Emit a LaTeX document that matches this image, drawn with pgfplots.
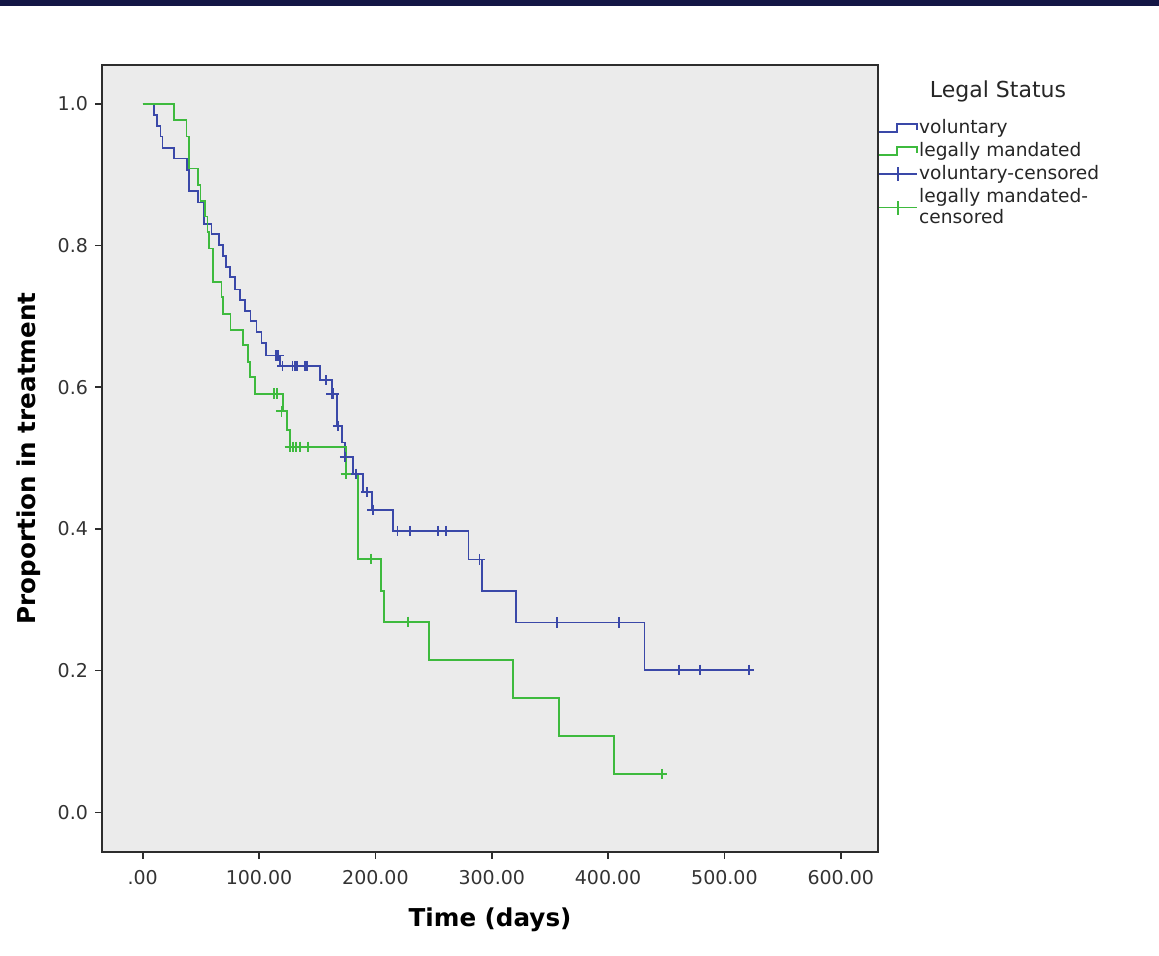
\documentclass[border=0pt]{standalone}
\usepackage{fontspec}
\setmainfont{DejaVu Sans}
\usepackage{pgfplots}
\pgfplotsset{compat=1.18}
\definecolor{kmblue}{RGB}{58,72,168}
\definecolor{kmgreen}{RGB}{62,186,62}
\definecolor{panel}{RGB}{235,235,235}
\definecolor{band}{RGB}{20,22,69}
\definecolor{frame}{RGB}{45,45,45}

\begin{document}
\begin{tikzpicture}
\fill[white] (0,0) rectangle (579.5pt,478pt);
\path[use as bounding box] (0,0) rectangle (579.5pt,478pt);
\fill[band] (0,475pt) rectangle (579.5pt,478pt);
% legend title
\node[font=\fontsize{11}{13}\selectfont, text=black!85] at (499pt,432.5pt) {Legal Status};
\begin{axis}[
    at={(51pt,52pt)}, anchor=south west,
    scale only axis, width=388pt, height=393.5pt,
    xmin=-35, xmax=632, ymin=-0.056, ymax=1.055,
    axis background/.style={fill=panel},
    axis line style={frame, line width=1pt},
    xtick={0,100,200,300,400,500,600},
    xticklabels={.00,100.00,200.00,300.00,400.00,500.00,600.00},
    ytick={0,0.2,0.4,0.6,0.8,1.0},
    yticklabels={0.0,0.2,0.4,0.6,0.8,1.0},
    tick pos=left, tick align=outside,
    major tick length=3.5pt,
    tick style={frame, line width=0.8pt},
    ticklabel style={font=\fontsize{9.5}{11}\selectfont, text=black!80},
    xticklabel style={yshift=-2pt},
    xlabel={Time (days)}, ylabel={Proportion in treatment},
    label style={font=\fontsize{12.3}{14}\selectfont\bfseries},
    xlabel style={at={(axis description cs:0.5,-0.086)}, anchor=center},
    ylabel style={at={(axis description cs:-0.095,0.5)}, anchor=center},
    legend style={at={(axis description cs:1,0.933)}, anchor=north west,
        draw=none, fill=none, font=\fontsize{9.3}{10.5}\selectfont,
        text=black!85, inner xsep=0pt, inner ysep=0pt, row sep=2pt,
        nodes={align=left, inner sep=0.5pt}},
    legend cell align=left,
]
\addplot[const plot, kmblue, line width=0.9pt,
    legend image code/.code={\draw[kmblue,line width=0.9pt] (0pt,-2pt) -- (9pt,-2pt) -- (9pt,2pt) -- (19pt,2pt) -- (19pt,-1pt);}]
coordinates {
(0,1.0)(9.5,0.984)(12.3,0.969)(15.2,0.954)(17,0.938)(26.7,0.923)(38.1,0.907)
(39.8,0.877)(47.6,0.861)(52.5,0.831)(59.1,0.816)(65.7,0.801)(69.1,0.785)
(71.4,0.770)(74.9,0.756)(79.2,0.738)(83.5,0.723)(87.8,0.708)(92.7,0.694)
(97.8,0.678)(102.1,0.662)(105.9,0.645)(117.9,0.630)(152.3,0.610)(162.4,0.591)
(166.7,0.545)(171,0.522)(173.8,0.502)(180.4,0.478)(189.6,0.452)(196.8,0.427)
(214.9,0.397)(280,0.357)(291.5,0.313)(320.7,0.268)(431.2,0.201)(521,0.201)
};
\addlegendentry{voluntary}
\addplot[const plot, kmgreen, line width=0.9pt,
    legend image code/.code={\draw[kmgreen,line width=0.9pt] (0pt,-2pt) -- (9pt,-2pt) -- (9pt,2pt) -- (19pt,2pt) -- (19pt,-1pt);}]
coordinates {
(0,1.0)(26.7,0.977)(37.6,0.954)(39.8,0.909)(47.6,0.886)(49.6,0.863)(53.4,0.841)
(55.7,0.819)(57.1,0.796)(60.5,0.749)(67.7,0.728)(69.1,0.704)(75.4,0.681)
(86.3,0.660)(90.6,0.636)(92.1,0.615)(96.4,0.591)(120.7,0.566)(123.7,0.540)
(126.5,0.516)(174.5,0.478)(184.8,0.358)(205,0.313)(207.4,0.269)(246.1,0.215)
(318.1,0.161)(358,0.108)(404.8,0.054)(446.4,0.054)
};
\addlegendentry{legally mandated}
\addplot[only marks, mark=+, mark size=2.6pt, kmblue, mark options={line width=0.9pt},
    legend image code/.code={\draw[kmblue,line width=0.9pt] (0pt,0pt) -- (19pt,0pt); \draw[kmblue,line width=0.9pt] (9.5pt,-3.5pt) -- (9.5pt,3.5pt);}]
coordinates {
(114.5,0.645)(116.6,0.645)(120.2,0.630)(128.8,0.630)(131,0.630)(132.3,0.630)
(139.4,0.630)(141.4,0.630)(157.5,0.610)(162.4,0.591)(164,0.591)(168,0.545)
(174,0.502)(183.6,0.478)(192.5,0.452)(197.6,0.427)(218.9,0.397)(229.8,0.397)
(254.1,0.397)(260.8,0.397)(289.4,0.357)(356,0.268)(409.6,0.268)(460.7,0.201)
(479.3,0.201)(520.9,0.201)
};
\addlegendentry{voluntary-censored}
\addplot[only marks, mark=+, mark size=2.6pt, kmgreen, mark options={line width=0.9pt},
    legend image code/.code={\draw[kmgreen,line width=0.9pt] (0pt,0pt) -- (19pt,0pt); \draw[kmgreen,line width=0.9pt] (9.5pt,-3.5pt) -- (9.5pt,3.5pt);}]
coordinates {
(112.7,0.591)(115.6,0.591)(119.3,0.566)(126.5,0.516)(129.3,0.516)(131.7,0.516)
(135.1,0.516)(142.3,0.516)(174.5,0.478)(196.4,0.358)(228.3,0.269)(446.4,0.054)
};
\addlegendentry{legally mandated-\\censored}
\end{axis}
\end{tikzpicture}
\end{document}
